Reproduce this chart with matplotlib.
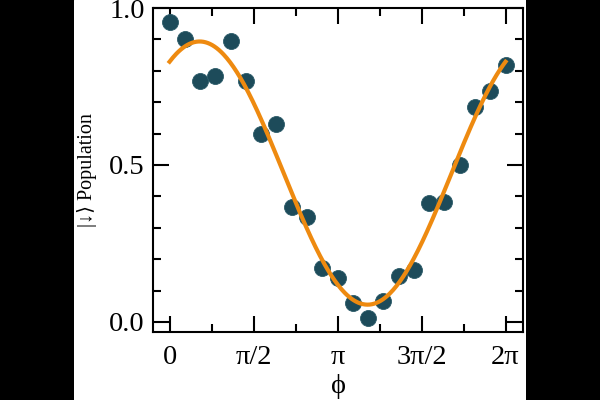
import numpy as np
import matplotlib
matplotlib.use("Agg")
import matplotlib.pyplot as plt
import matplotlib.transforms as mtransforms
from matplotlib.ticker import MultipleLocator, FixedLocator, FormatStrFormatter

plt.rcParams['font.family'] = ['Liberation Serif', 'DejaVu Serif']

# measured spin-down population vs phase (23 points over one period)
phi = np.linspace(0, 2 * np.pi, 23)
population = [0.955, 0.900, 0.768, 0.783, 0.894, 0.768, 0.598, 0.631,
              0.367, 0.335, 0.171, 0.139, 0.060, 0.012, 0.068, 0.147,
              0.166, 0.378, 0.381, 0.500, 0.686, 0.737, 0.818]

xtick_pos = [0, np.pi / 2, np.pi, 3 * np.pi / 2, 2 * np.pi]
xtick_labels = ['0', 'π/2', 'π', '3π/2', '2π']

# least squares fit a + b cos(phi) + c sin(phi)
A = np.column_stack([np.ones_like(phi), np.cos(phi), np.sin(phi)])
coef, *_ = np.linalg.lstsq(A, np.array(population), rcond=None)
phi_fit = np.linspace(0, 2 * np.pi, 300)
pop_fit = coef[0] + coef[1] * np.cos(phi_fit) + coef[2] * np.sin(phi_fit)

fig = plt.figure(figsize=(6, 4), dpi=100, facecolor='black')
bg = fig.add_axes([0.123, 0, 0.754, 1], zorder=-1)
bg.axis('off')
bg.add_patch(plt.Rectangle((0, 0), 1, 1, transform=bg.transAxes, color='white'))

ax = fig.add_axes([0.255, 0.17, 0.617, 0.81])
ax.set_facecolor('white')

ax.plot(phi, population, 'o', color='#1d4b5a', markersize=11.5,
        markeredgecolor='#2a5a68', markeredgewidth=0.6, zorder=2)
ax.plot(phi_fit, pop_fit, color='#ee8a10', lw=3, zorder=3)

ax.set_xlim(-0.31, 2 * np.pi + 0.33)
ax.set_ylim(-0.032, 1.0)

ax.xaxis.set_major_locator(FixedLocator(xtick_pos))
ax.set_xticklabels(xtick_labels)
ax.xaxis.set_minor_locator(MultipleLocator(np.pi / 4))
ax.yaxis.set_major_locator(MultipleLocator(0.5))
ax.yaxis.set_minor_locator(MultipleLocator(0.1))
ax.yaxis.set_major_formatter(FormatStrFormatter('%.1f'))

ax.tick_params(which='both', direction='in', top=True, right=True, width=1.5,
               labelsize=20.5)
ax.tick_params(which='major', length=11.5)
ax.tick_params(which='minor', length=6)
ax.tick_params(axis='x', which='major', pad=9)
ax.tick_params(axis='y', which='major', pad=6)
for s in ax.spines.values():
    s.set_linewidth(1.5)

# top label sits a little below its tick so it stays inside the figure
fig.canvas.draw()
top_lbl = ax.get_yticklabels()[-1]
top_lbl.set_transform(top_lbl.get_transform() +
                      mtransforms.ScaledTranslation(0, -5 / 100, fig.dpi_scale_trans))

ax.set_xlabel('ϕ', fontsize=20.5, labelpad=3)
ax.set_ylabel('|↓⟩ Population', fontsize=14.5, labelpad=9)

fig.savefig('out.png', dpi=100, facecolor=fig.get_facecolor())
